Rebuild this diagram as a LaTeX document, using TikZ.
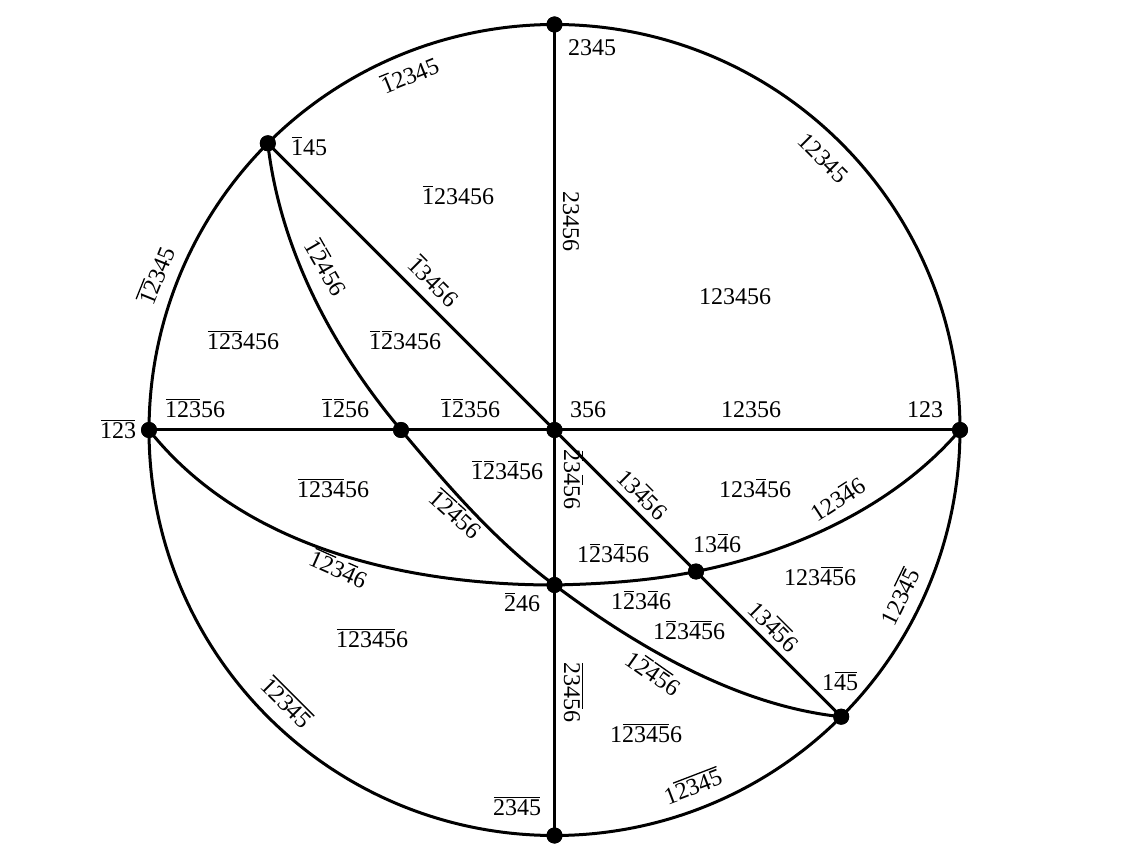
\documentclass[tikz,border=0pt]{standalone}
\usepackage{fontspec}
\setmainfont{Liberation Serif}
\newsavebox\obbox
\newcommand\ob[1]{\sbox\obbox{#1}\leavevmode\rlap{\smash{\raise\dimexpr\ht\obbox+2pt\relax\hbox to\wd\obbox{\hskip0.8pt\leaders\hrule height 1.3pt depth 0pt\hfill\hskip0.8pt}}}\usebox\obbox}
\begin{document}
\begin{tikzpicture}[x=1pt,y=-1pt,
  dot/.style={circle,fill=black,inner sep=0pt,minimum size=16pt},
  lab/.style={inner sep=0pt,font=\fontsize{24}{26}\selectfont},
  ln/.style={line width=3pt}]
\useasboundingbox (0,0) rectangle (1128,858);
% vertices
\coordinate (O) at (554.5,430);
\node[dot] (vT)  at (554.5,24.5) {};
\node[dot] (vTL) at (267.8,143.3) {};
\node[dot] (vL)  at (149,430) {};
\node[dot] (vB3) at (401,430) {};
\node[dot] (vC)  at (554.5,430) {};
\node[dot] (vR)  at (960,430) {};
\node[dot] (vC3) at (554.5,585) {};
\node[dot] (vE)  at (696,571.5) {};
\node[dot] (vBR) at (841.2,716.7) {};
\node[dot] (vB)  at (554.5,835.5) {};
% circle (element 6)
\draw[ln] (vT.center) arc[start angle=270,end angle=225,radius=405.5];
\draw[ln] (vTL.center) arc[start angle=225,end angle=180,radius=405.5];
\draw[ln] (vL.center) arc[start angle=180,end angle=90,radius=405.5];
\draw[ln] (vB.center) arc[start angle=90,end angle=45,radius=405.5];
\draw[ln] (vBR.center) arc[start angle=45,end angle=0,radius=405.5];
\draw[ln] (vR.center) arc[start angle=360,end angle=270,radius=405.5];
% vertical (element 1)
\draw[ln] (vT.center) -- (vC.center) -- (vC3.center) -- (vB.center);
% horizontal (element 4)
\draw[ln] (vL.center) -- (vB3.center) -- (vC.center) -- (vR.center);
% diagonal (element 2)
\draw[ln] (vTL.center) -- (vC.center) -- (vE.center) -- (vBR.center);
% curve (element 3)
\draw[ln] (vTL.center) .. controls (280,249) and (332,348) .. (vB3.center)
  .. controls (447,485) and (496,542) .. (vC3.center)
  .. controls (637,647) and (738,706) .. (vBR.center);
% curve (element 5)
\draw[ln] (vL.center) .. controls (242,547) and (404,585) .. (vC3.center)
  .. controls (602,584) and (649,581) .. (vE.center)
  .. controls (794,552) and (895,506) .. (vR.center);
% redraw dots on top
\foreach \v in {vT,vTL,vL,vB3,vC,vR,vC3,vE,vBR,vB} \fill (\v.center) circle[radius=8];
% vertex labels
\node[lab] (t1) at (592,48) {2345};
\node[lab] (t2) at (309,148) {\ob{1}45};
\node[lab] (t3) at (118,431) {\ob{123}};
\node[lab] (t4) at (345,410) {\ob{1}\ob{2}56};
\node[lab] (t5) at (588,410) {356};
\node[lab] (t6) at (925,410) {123};
\node[lab] (t7) at (522,604) {\ob{2}46};
\node[lab] (t8) at (717,545) {13\ob{4}6};
\node[lab] (t9) at (840,683) {1\ob{45}};
\node[lab] (t10) at (517,808) {\ob{2345}};
% edge labels
\node[lab,rotate=22] (e1) at (410,76) {\ob{1}2345};
\node[lab,rotate=-45] (e2) at (823,158) {12345};
\node[lab,rotate=68] (e3) at (157,276) {\ob{12}345};
\node[lab,rotate=-45] (e4) at (286,703) {\ob{12345}};
\node[lab,rotate=21] (e5) at (693,787) {1\ob{2345}};
\node[lab,rotate=64] (e6) at (901,597) {123\ob{45}};
\node[lab,rotate=-90] (e7) at (571,222) {23456};
\node[lab,rotate=-90] (e8) at (572,480) {\ob{2}3\ob{4}56};
\node[lab,rotate=-90] (e9) at (572,692) {\ob{2345}6};
\node[lab] (e10) at (195,410) {\ob{123}56};
\node[lab] (e11) at (470,410) {\ob{1}\ob{2}356};
\node[lab] (e12) at (751,410) {12356};
\node[lab,rotate=-45] (e13) at (433,282) {\ob{1}3456};
\node[lab,rotate=-45] (e14) at (642,495) {13\ob{4}56};
\node[lab,rotate=-45] (e15) at (773,627) {13\ob{45}6};
\node[lab,rotate=-60] (e16) at (325,268) {\ob{1}\ob{2}456};
\node[lab,rotate=-42] (e17) at (455,515) {\ob{12}\ob{4}56};
\node[lab,rotate=-35] (e18) at (653,674) {1\ob{2}\ob{45}6};
\node[lab,rotate=-24] (e19) at (338,570) {\ob{12}3\ob{4}6};
\node[lab] (e20) at (641,602) {1\ob{2}3\ob{4}6};
\node[lab,rotate=33] (e21) at (838,500) {123\ob{4}6};
% region labels
\node[lab] (r1) at (458,197) {\ob{1}23456};
\node[lab] (r2) at (735,297) {123456};
\node[lab] (r3) at (243,342) {\ob{123}456};
\node[lab] (r4) at (405,342) {\ob{1}\ob{2}3456};
\node[lab] (r5) at (333,490) {\ob{1234}56};
\node[lab] (r6) at (507,472) {\ob{1}\ob{2}3\ob{4}56};
\node[lab] (r7) at (755,490) {123\ob{4}56};
\node[lab] (r8) at (613,555) {1\ob{2}3\ob{4}56};
\node[lab] (r9) at (820,578) {123\ob{45}6};
\node[lab] (r10) at (689,632) {1\ob{2}3\ob{45}6};
\node[lab] (r11) at (646,735) {1\ob{2345}6};
\node[lab] (r12) at (372,640) {\ob{12345}6};
\end{tikzpicture}
\end{document}
